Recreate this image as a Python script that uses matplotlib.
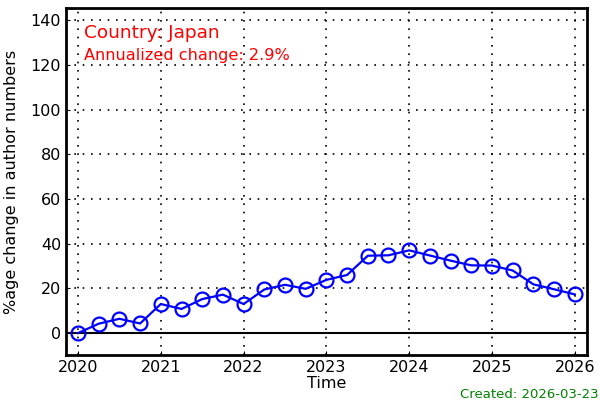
import matplotlib
matplotlib.use('Agg')
import matplotlib.pyplot as plt

# quarterly % change in author numbers, Japan
time = [2020 + 0.25 * i for i in range(25)]
pct_change = [0, 4.2, 6.4, 4.3, 13.0, 10.8, 15.2, 17.2, 13.0, 19.5, 21.6, 19.8,
              23.8, 26.0, 34.6, 34.8, 37.0, 34.7, 32.4, 30.3, 30.2, 28.0, 21.8, 19.6, 17.3]
year_ticks = [2020, 2021, 2022, 2023, 2024, 2025, 2026]
y_ticks = [0, 20, 40, 60, 80, 100, 120, 140]
country = "Japan"
annual_change = 2.9
created = "2026-03-23"

fig = plt.figure(figsize=(6, 4), dpi=100)
ax = fig.add_axes([0.11, 0.1125, 0.868, 0.8675])

ax.axhline(0, color='black', lw=1.5, zorder=1)
ax.plot(time, pct_change, color='blue', lw=1.6, marker='o', markersize=10,
        markerfacecolor='none', markeredgewidth=1.6, zorder=3)

ax.set_xlim(2019.855, 2026.145)
ax.set_ylim(-9.8, 145.4)
ax.set_xticks(year_ticks)
ax.set_yticks(y_ticks)
ax.tick_params(direction='in', labelsize=11.5, length=3)
ax.grid(True, color='black', linestyle=(0, (1, 4)), lw=1.2)
for s in ax.spines.values():
    s.set_linewidth(2)

ax.set_xlabel("Time", fontsize=11.5, labelpad=1)
ax.set_ylabel("%age change in author numbers", fontsize=11.5)
ax.yaxis.set_label_coords(-0.09, 0.5)

ax.text(0.035, 0.955, f"Country: {country}", transform=ax.transAxes,
        color='red', fontsize=13.3, va='top')
ax.text(0.035, 0.885, f"Annualized change: {annual_change}%", transform=ax.transAxes,
        color='red', fontsize=11.6, va='top')
fig.text(0.997, -0.003, f"Created: {created}", color='green', fontsize=9.5,
         ha='right', va='bottom')

fig.savefig("out.png", dpi=100)
